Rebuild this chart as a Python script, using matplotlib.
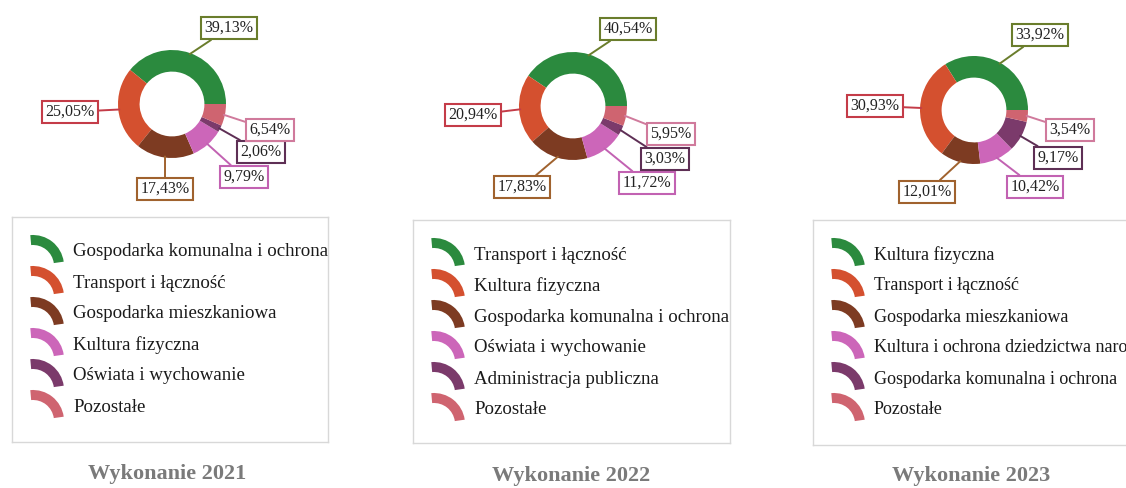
import numpy as np
import matplotlib.pyplot as plt
from matplotlib.patches import Wedge

plt.rcParams['font.family'] = ['Liberation Serif', 'DejaVu Serif']

# ---- data ----
years = ["2021", "2022", "2023"]

cats_2021 = ["Gospodarka komunalna i ochrona", "Transport i łączność", "Gospodarka mieszkaniowa",
             "Kultura fizyczna", "Oświata i wychowanie", "Pozostałe"]
vals_2021 = [39.13, 25.05, 17.43, 9.79, 2.06, 6.54]

cats_2022 = ["Transport i łączność", "Kultura fizyczna", "Gospodarka komunalna i ochrona",
             "Oświata i wychowanie", "Administracja publiczna", "Pozostałe"]
vals_2022 = [40.54, 20.94, 17.83, 11.72, 3.03, 5.95]

cats_2023 = ["Kultura fizyczna", "Transport i łączność", "Gospodarka mieszkaniowa",
             "Kultura i ochrona dziedzictwa narodowego", "Gospodarka komunalna i ochrona", "Pozostałe"]
vals_2023 = [33.92, 30.93, 12.01, 10.42, 9.17, 3.54]

colors = ['#2b8a3e', '#d4502f', '#7d3b22', '#cc66b9', '#7b3a6b', '#cf6470']
edge_colors = ['#6a7d2c', '#c43c48', '#a0622e', '#c262b2', '#5e2f55', '#d07a9c']

# ---- layout (pixels) ----
W, H = 1126, 488
R = 54.0  # donut outer radius in px
centers = [(172, 104), (573, 106), (974, 110)]
# label box centre offsets from donut centre (px, y down)
label_offsets = [
    [(57, -76), (-102, 8), (-7, 85), (72, 73), (89, 48), (98, 26)],
    [(55, -77), (-100, 9), (-51, 81), (74, 77), (92, 53), (98, 28)],
    [(66, -75), (-99, -4), (-47, 82), (61, 77), (84, 48), (96, 20)],
]
legend_boxes = [(12, 217, 316, 225), (413, 220, 317, 223), (813, 220, 330, 225)]
legend_fs = [13.6, 13.6, 13.0]
title_pos = [(167, 474), (571, 476), (971, 476)]

fig = plt.figure(figsize=(W / 100, H / 100), dpi=100)


def px_axes(x0, y0, w, h):
    return fig.add_axes([x0 / W, 1 - (y0 + h) / H, w / W, h / H])


def fmt(v):
    return f"{v:.2f}".replace('.', ',') + "%"


all_cats = [cats_2021, cats_2022, cats_2023]
all_vals = [vals_2021, vals_2022, vals_2023]

k = 2.4
for i in range(3):
    cx, cy = centers[i]
    size = 2 * R * k
    ax = px_axes(cx - size / 2, cy - size / 2, size, size)
    wedges, _ = ax.pie(all_vals[i], colors=colors, startangle=0, counterclock=True,
                       wedgeprops=dict(width=0.4, linewidth=0))
    ax.set_xlim(-k, k)
    ax.set_ylim(-k, k)
    ax.axis('off')
    for j, w in enumerate(wedges):
        mid = np.deg2rad((w.theta1 + w.theta2) / 2)
        dx, dy = label_offsets[i][j]
        ax.annotate(fmt(all_vals[i][j]), xy=(0.98 * np.cos(mid), 0.98 * np.sin(mid)),
                    xytext=(dx / R, -dy / R), ha='center', va='center',
                    fontsize=11.5, color='#222222',
                    bbox=dict(boxstyle='square,pad=0.2', fc='white', ec=edge_colors[j], lw=1.5),
                    arrowprops=dict(arrowstyle='-', color=edge_colors[j], lw=1.4,
                                    shrinkA=0, shrinkB=0),
                    annotation_clip=False)

    # legend box
    lx, ly, lw_, lh = legend_boxes[i]
    lax = px_axes(lx, ly, lw_, lh)
    lax.set_xlim(0, lw_)
    lax.set_ylim(lh, 0)
    lax.set_xticks([])
    lax.set_yticks([])
    for sp in lax.spines.values():
        sp.set_color('#d8d8d8')
        sp.set_linewidth(1.0)
    for j, cat in enumerate(all_cats[i]):
        yy = 35 + 31 * j
        lax.add_patch(Wedge((21, yy + 14), 31, -95, -8, width=10, color=colors[j], lw=0))
        lax.text(61, yy, cat, fontsize=legend_fs[i], va='center', ha='left', color='#1a1a1a')

    tx, ty = title_pos[i]
    fig.text(tx / W, 1 - ty / H, f"Wykonanie {years[i]}", fontsize=16, fontweight='bold',
             color='#7a7a7a', ha='center', va='center')

fig.savefig('out.png', dpi=100, facecolor='white')
